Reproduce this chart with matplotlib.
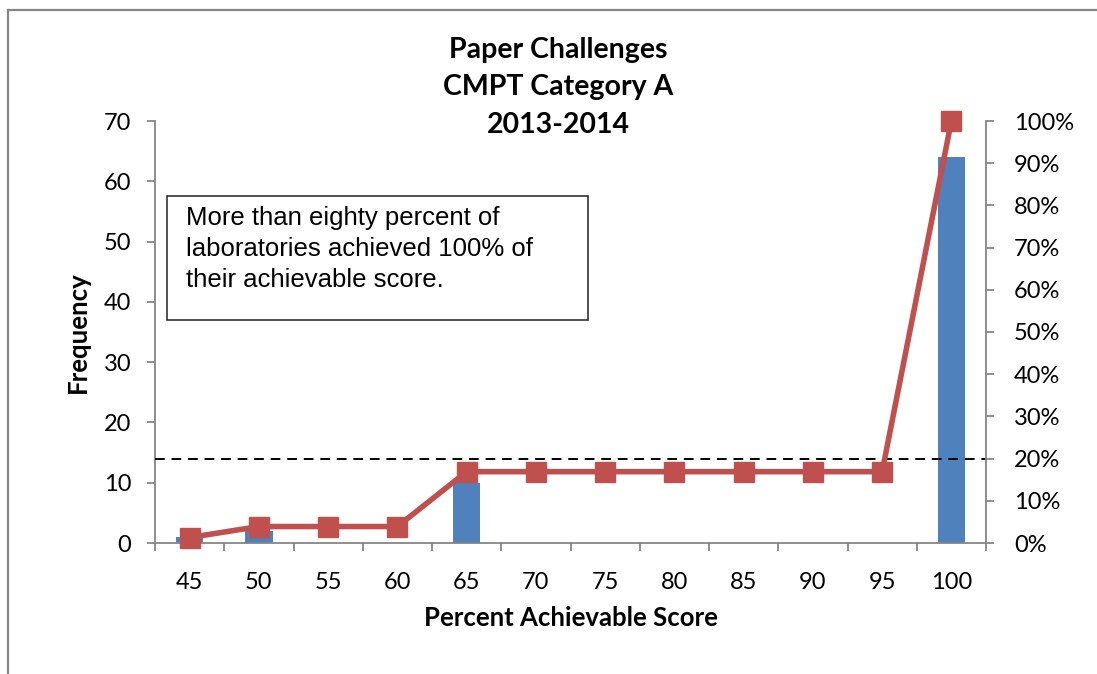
import matplotlib

matplotlib.use("Agg")
import matplotlib.pyplot as plt
from matplotlib.lines import Line2D
from matplotlib.ticker import FixedLocator, PercentFormatter

# données
categories = ["45", "50", "55", "60", "65", "70", "75", "80", "85", "90", "95", "100"]
frequency = [1, 2, 0, 0, 10, 0, 0, 0, 0, 0, 0, 64]
cumulative_pct = [1.3, 3.9, 3.9, 3.9, 16.9, 16.9, 16.9, 16.9, 16.9, 16.9, 16.9, 100.0]
threshold_pct = 20

BAR = "#4F81BD"
LINE = "#C0504D"
GREY = "#868686"

plt.rcParams["font.family"] = ["Lato", "DejaVu Sans"]

fig = plt.figure(figsize=(10.97, 6.74), dpi=100)
fig.patch.set_facecolor("white")
# cadre de la zone graphique (bord gauche + haut visibles)
fig.add_artist(Line2D([8 / 1097, 8 / 1097], [0, 1 - 10 / 674], color=GREY, lw=1.6,
                      transform=fig.transFigure))
fig.add_artist(Line2D([8 / 1097, 1], [1 - 10 / 674, 1 - 10 / 674], color=GREY, lw=1.6,
                      transform=fig.transFigure))

ax = fig.add_axes([155 / 1097, 131 / 674, (986 - 155) / 1097, (543 - 121) / 674])
x = list(range(len(categories)))
ax.bar(x, frequency, width=0.4, color=BAR, zorder=2)
ax.set_xlim(-0.5, len(categories) - 0.5)
ax.set_ylim(0, 70)
ax.set_yticks(range(0, 71, 10))
ax.set_xticks(x)
ax.set_xticklabels(categories)
ax.xaxis.set_minor_locator(FixedLocator([i - 0.5 for i in range(len(categories) + 1)]))
ax.tick_params(axis="x", which="major", length=0, pad=21, labelsize=17)
ax.tick_params(axis="x", which="minor", length=6, width=1.3, color=GREY, direction="out")
ax.tick_params(axis="y", length=6, width=1.3, color=GREY, pad=11, labelsize=17)
for s in ("top", "right"):
    ax.spines[s].set_visible(False)
for s in ("left", "bottom"):
    ax.spines[s].set_color(GREY)
    ax.spines[s].set_linewidth(1.3)
ax.set_ylabel("Frequency", fontsize=18.5, weight="bold", labelpad=10)
ax.set_xlabel("Percent Achievable Score", fontsize=18.5, weight="bold", labelpad=9)

# axe secondaire : pourcentage cumulé
ax2 = ax.twinx()
ax2.set_ylim(0, 100)
ax2.set_yticks(range(0, 101, 10))
ax2.yaxis.set_major_formatter(PercentFormatter(decimals=0))
ax2.tick_params(axis="y", length=6, width=1.3, color=GREY, pad=14, labelsize=17)
for s in ("top", "left", "bottom"):
    ax2.spines[s].set_visible(False)
ax2.spines["right"].set_color(GREY)
ax2.spines["right"].set_linewidth(1.3)
ax2.axhline(threshold_pct, color="black", ls=(0, (5, 3.5)), lw=1.4, zorder=1)
ax2.plot(x, cumulative_pct, color=LINE, lw=4, marker="s", markersize=14,
         markerfacecolor=LINE, markeredgecolor=LINE, zorder=3, clip_on=False)

# titre sur trois lignes
for i, line in enumerate(["Paper Challenges", "CMPT Category A", "2013-2014"]):
    fig.text(558 / 1097, 1 - (50 + 37.5 * i) / 674, line, ha="center", va="center",
             fontsize=20.5, weight="bold")

# encadré de commentaire
ax.text(186 / 1097, 1 - 206 / 674,
        "More than eighty percent of\nlaboratories achieved 100% of\ntheir achievable score.",
        transform=fig.transFigure, ha="left", va="top", fontsize=18.5,
        family=["Liberation Sans", "DejaVu Sans"], linespacing=1.38)
fig.add_artist(plt.Rectangle((167 / 1097, 1 - 320 / 674), (588 - 167) / 1097, 124 / 674,
                             transform=fig.transFigure, fill=False, ec="#222222", lw=1.1))

fig.savefig("out.png", dpi=100)
